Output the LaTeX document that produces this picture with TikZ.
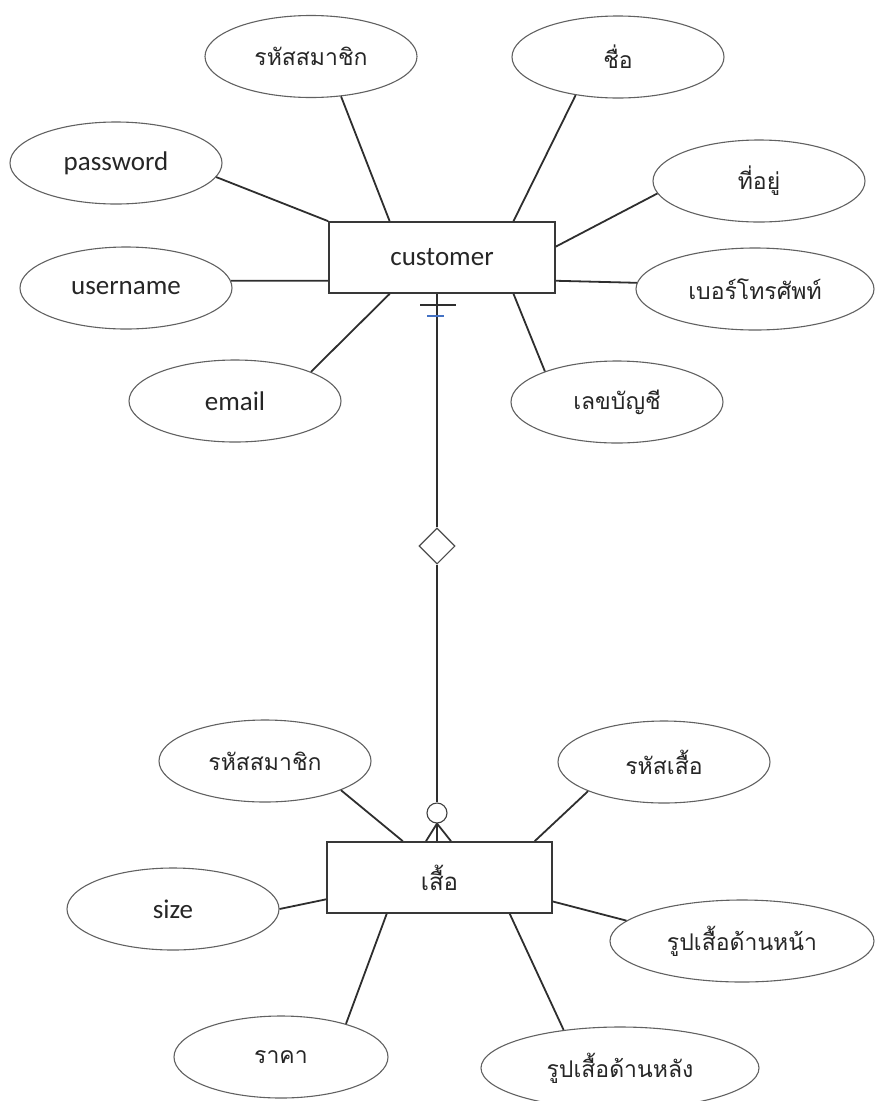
\documentclass[tikz,border=0pt]{standalone}
\usepackage{fontspec}
\setmainfont{Carlito}
\newfontfamily\thai[Script=Thai]{Loma}
\usetikzlibrary{shapes.geometric,calc}
\begin{document}
\begin{tikzpicture}[x=1pt,y=-1pt,
  attr/.style={draw=black!62, line width=1.1pt, ellipse, minimum width=212pt, minimum height=82pt, inner sep=0pt, text=black!85, font=\fontsize{27}{30}\selectfont},
  thattr/.style={attr, font=\thai\fontsize{23}{28}\selectfont},
  entity/.style={draw=black!78, line width=1.7pt, minimum width=226pt, minimum height=71pt, inner sep=0pt, text=black!85},
  conn/.style={draw=black!82, line width=1.8pt},
]
\useasboundingbox (0,0) rectangle (875,1101);

% entities
\node[entity, font=\fontsize{27}{30}\selectfont] (cust) at (442,257.5) {customer};
\node[entity, font=\thai\fontsize{24}{30}\selectfont, minimum width=225pt] (shirt) at (439.5,877.5) {เสื้อ};

% customer attributes
\node[thattr] (a1) at (311,56.5) {รหัสสมาชิก};
\node[thattr] (a2) at (618,57) {ชื่อ};
\node[thattr] (a3) at (759,181) {ที่อยู่};
\node[thattr, minimum width=238pt] (a4) at (755,289) {เบอร์โทรศัพท์};
\node[thattr] (a5) at (617,402) {เลขบัญชี};
\node[attr] (a6) at (235,401) {email};
\node[attr] (a7) at (126,288) {username};
\node[attr] (a8) at (116,163) {password};

% shirt attributes
\node[thattr] (b1) at (265,761) {รหัสสมาชิก};
\node[thattr] (b2) at (664,762) {รหัสเสื้อ};
\node[attr] (b3) at (173,909) {size};
\node[thattr, minimum width=264pt] (b4) at (742,941) {รูปเสื้อด้านหน้า};
\node[thattr, minimum width=214pt] (b5) at (281,1057) {ราคา};
\node[thattr, minimum width=278pt] (b6) at (620,1068) {รูปเสื้อด้านหลัง};

% relationship
\node[diamond, draw=black!70, line width=1.1pt, minimum width=36pt, minimum height=36pt, inner sep=0pt] (rel) at (437,546) {};
\node[circle, draw=black!75, line width=1.1pt, minimum size=20pt, inner sep=0pt] (circ) at (437,813) {};

% customer connectors
\draw[conn] (a8.-8) -- (cust.north west);
\draw[conn] (a1.-53) -- ($(cust.north west)!0.27!(cust.north east)$);
\draw[conn] (a2.222) -- ($(cust.north west)!0.814!(cust.north east)$);
\draw[conn] (a3.187) -- ($(cust.north east)!0.35!(cust.south east)$);
\draw[conn] (a4.177) -- ($(cust.north east)!0.82!(cust.south east)$);
\draw[conn] (a7.4) -- ($(cust.north west)!0.82!(cust.south west)$);
\draw[conn] (a6.21) -- ($(cust.south west)!0.27!(cust.south east)$);
\draw[conn] (a5.157) -- ($(cust.south west)!0.814!(cust.south east)$);

% shirt connectors
\draw[conn] (b1.-21) -- ($(shirt.north west)!0.338!(shirt.north east)$);
\draw[conn] (b2.201) -- ($(shirt.north west)!0.92!(shirt.north east)$);
\draw[conn] (b3.0) -- ($(shirt.north west)!0.80!(shirt.south west)$);
\draw[conn] (b4.170) -- ($(shirt.north east)!0.83!(shirt.south east)$);
\draw[conn] (b5.27) -- ($(shirt.south west)!0.267!(shirt.south east)$);
\draw[conn] (b6.146) -- ($(shirt.south west)!0.81!(shirt.south east)$);

% relationship line with notation
\draw[conn] (rel.north) -- (rel |- cust.south);
\draw[conn] ($(rel |- cust.south)+(-17,11)$) -- ($(rel |- cust.south)+(19,11)$);
\draw[draw={rgb,255:red,68;green,114;blue,196}, line width=1.3pt] ($(rel |- cust.south)+(-10,22)$) -- ($(rel |- cust.south)+(7,22)$);
\draw[conn] (rel.south) -- (circ.north);
\draw[conn] (circ.south) -- ($(circ.south |- shirt.north)+(-11,0)$);
\draw[conn] (circ.south) -- (circ.south |- shirt.north);
\draw[conn] (circ.south) -- ($(circ.south |- shirt.north)+(14,0)$);
\end{tikzpicture}
\end{document}
